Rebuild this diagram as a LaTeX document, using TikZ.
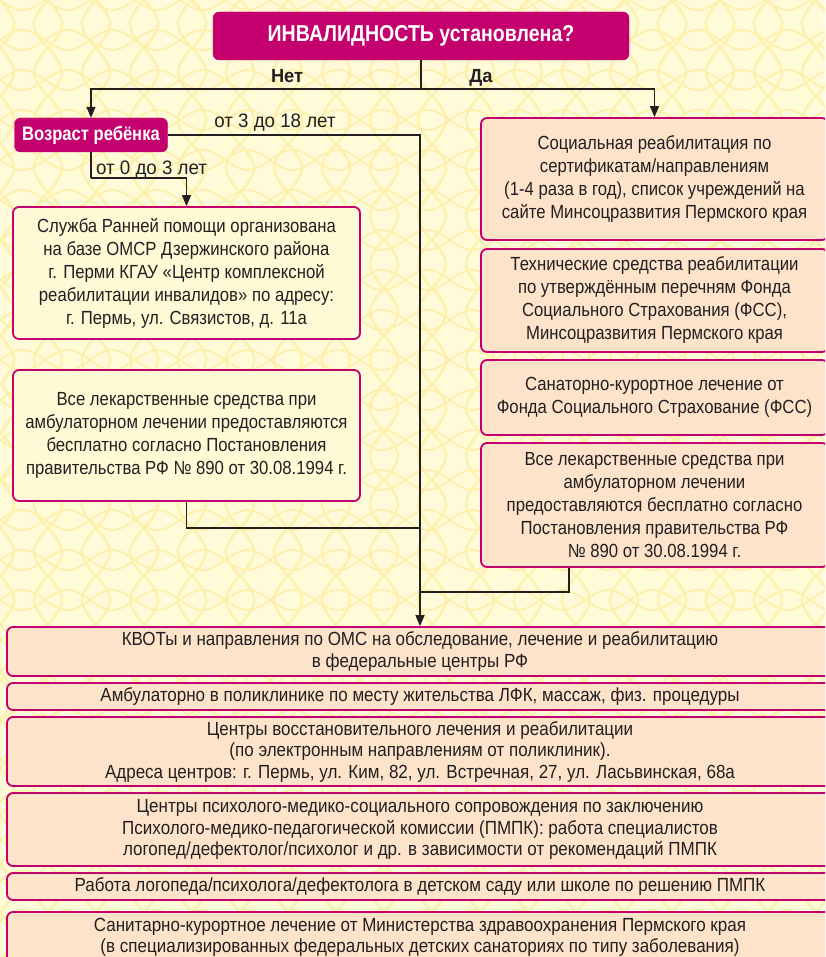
\documentclass[tikz,border=0pt]{standalone}
\usepackage{fontspec}
\setmainfont[FakeStretch=0.88]{Liberation Sans}
\newfontfamily\hdrfont[FakeStretch=0.85]{Liberation Sans}
\newfontfamily\lblfont[FakeStretch=0.96]{Liberation Sans}
\newfontfamily\botfont[FakeStretch=0.895]{Liberation Sans}
\usetikzlibrary{arrows.meta}
\definecolor{bg}{HTML}{FFFAD8}
\definecolor{pat}{HTML}{FCF0A8}
\definecolor{mag}{HTML}{C4006F}
\definecolor{cream}{HTML}{FFF9D6}
\definecolor{peach}{HTML}{FDE3CA}
\definecolor{ink}{HTML}{231F20}
\tikzset{
  base/.style={rounded corners=6pt, align=center, inner sep=0pt, font=\fontsize{19}{23}\selectfont, text=ink},
  hdr/.style={base, fill=mag, draw=mag, text=white, font=\hdrfont\bfseries\fontsize{19.5}{22}\selectfont},
  lbox/.style={base, fill=cream, draw=mag, line width=1.8pt},
  rbox/.style={base, fill=peach, draw=mag, line width=1.8pt},
  bbox/.style={base, fill=peach, draw=mag, line width=1.8pt, font=\botfont\fontsize{19}{21.5}\selectfont},
  conn/.style={draw=ink, line width=1.3pt},
  arr/.style={conn, -{Triangle[length=11pt,width=9pt]}},
  lbl/.style={inner sep=0pt, text=ink, font=\lblfont\fontsize{19.5}{22}\selectfont},
  blbl/.style={inner sep=0pt, text=ink, font=\lblfont\bfseries\fontsize{19}{22}\selectfont},
}
\begin{document}
\begin{tikzpicture}[x=1pt,y=-1pt]
\clip (0,0) rectangle (825,957);
\fill[bg] (0,0) rectangle (825,957);
% guilloche-like background
\foreach \c in {0,48,...,864}{
  \draw[pat, line width=2pt] plot[domain=0:960, samples=90, smooth] ({\c+14*sin(\x*3.75)}, \x);
  \draw[pat, line width=2pt] plot[domain=0:960, samples=90, smooth] ({\c-14*sin(\x*3.75)}, \x);
}
\foreach \r in {0,40,...,1000}{
  \draw[pat, line width=1.6pt] plot[domain=0:840, samples=90, smooth] (\x, {\r+10*sin(\x*4)});
  \draw[pat, line width=1.6pt] plot[domain=0:840, samples=90, smooth] (\x, {\r-10*sin(\x*4)});
}

% header
\node[hdr, minimum width=416pt, minimum height=48pt, font=\hdrfont\bfseries\fontsize{23}{26}\selectfont] (top) at (421,36) {ИНВАЛИДНОСТЬ установлена?};
\node[blbl, anchor=base] (no) at (287,83) {Нет};
\node[blbl, anchor=base] (yes) at (481,83) {Да};
\node[hdr, minimum width=153pt, minimum height=34pt] (age) at (91,135) {Возраст ребёнка};

% left column
\node[lbox, minimum width=347pt, minimum height=132pt] (s1) at (186.5,273) {Служба Ранней помощи организована\\на базе ОМСР Дзержинского района\\г. Перми КГАУ «Центр комплексной\\реабилитации инвалидов» по адресу:\\г. Пермь, ул. Связистов, д. 11а};
\node[lbox, minimum width=347pt, minimum height=131pt] (l2) at (186.5,435.5) {Все лекарственные средства при\\амбулаторном лечении предоставляются\\бесплатно согласно Постановления\\правительства РФ № 890 от 30.08.1994 г.};

% right column
\node[rbox, minimum width=347pt, minimum height=122pt] (r1) at (654.5,179) {Социальная реабилитация по\\сертификатам/направлениям\\(1-4 раза в год), список учреждений на\\сайте Минсоцразвития Пермского края};
\node[rbox, minimum width=347pt, minimum height=103pt] (r2) at (654.5,300.5) {Технические средства реабилитации\\по утверждённым перечням Фонда\\Социального Страхования (ФСС),\\Минсоцразвития Пермского края};
\node[rbox, minimum width=347pt, minimum height=75pt] (r3) at (654.5,397.5) {Санаторно-курортное лечение от\\Фонда Социального Страхование (ФСС)};
\node[rbox, minimum width=347pt, minimum height=124pt] (r4) at (654.5,505) {Все лекарственные средства при\\амбулаторном лечении\\предоставляются бесплатно согласно\\Постановления правительства РФ\\№ 890 от 30.08.1994 г.};

% bottom rows
\node[bbox, minimum width=826pt, minimum height=49pt] (b1) at (420,651.5) {КВОТы и направления по ОМС на обследование, лечение и реабилитацию\\в федеральные центры РФ};
\node[bbox, minimum width=826pt, minimum height=27pt] (b2) at (420,696.5) {Амбулаторно в поликлинике по месту жительства ЛФК, массаж, физ. процедуры};
\node[bbox, minimum width=826pt, minimum height=69pt] (b3) at (420,751.5) {Центры восстановительного лечения и реабилитации\\(по электронным направлениям от поликлиник).\\Адреса центров: г. Пермь, ул. Ким, 82, ул. Встречная, 27, ул. Ласьвинская, 68а};
\node[bbox, minimum width=826pt, minimum height=73pt] (b4) at (420,829.5) {Центры психолого-медико-социального сопровождения по заключению\\Психолого-медико-педагогической комиссии (ПМПК): работа специалистов\\логопед/дефектолог/психолог и др. в зависимости от рекомендаций ПМПК};
\node[bbox, minimum width=826pt, minimum height=27pt] (b5) at (420,886.5) {Работа логопеда/психолога/дефектолога в детском саду или школе по решению ПМПК};
\node[bbox, minimum width=826pt, minimum height=51pt] (b6) at (420,937.5) {Санитарно-курортное лечение от Министерства здравоохранения Пермского края\\(в специализированных федеральных детских санаториях по типу заболевания)};

% junctions
\coordinate (j1) at (421,89);
\coordinate (j2) at (91,178);
\coordinate (m1) at (420,528);
\coordinate (m2) at (420,592);

% connectors
\draw[conn] (top.south) -- (j1);
\draw[arr] (j1) -| (age.north);
\draw[arr] (j1) -| (r1.north);
\draw[arr] (age.east) -| (b1.north);
\node[lbl, anchor=base] (l318) at (275,128) {от 3 до 18 лет};
\draw[conn] (age.south) -- (j2);
\draw[arr] (j2) -| (s1.north);
\node[lbl, anchor=base west] (l03) at (96,175) {от 0 до 3 лет};
\draw[conn] (l2.south) |- (m1);
\draw[conn] ([xshift=-85.5pt]r4.south) |- (m2);
\end{tikzpicture}
\end{document}
